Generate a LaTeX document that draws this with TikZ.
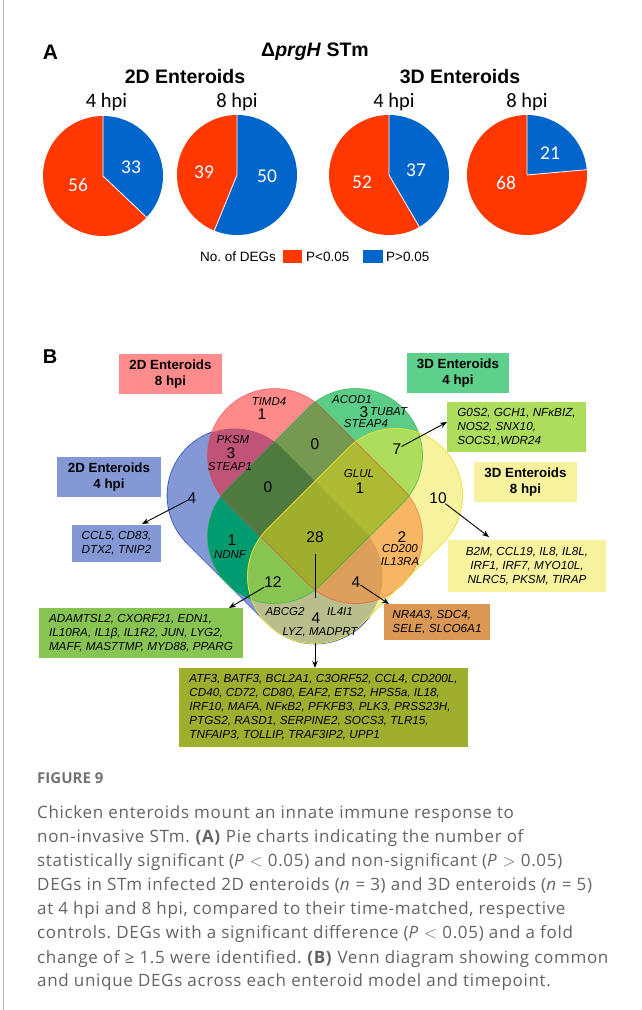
\documentclass[tikz,border=0pt]{standalone}
\usepackage{fontspec}
\setmainfont{Liberation Sans}
\newfontfamily\carl{Carlito}
\newfontfamily\capf{Open Sans}[LetterSpace=4]
\newfontfamily\capb{Open Sans}
\usetikzlibrary{arrows.meta}
\frenchspacing
% pie colours
\definecolor{pieR}{RGB}{255,55,0}
\definecolor{pieB}{RGB}{0,102,204}
% venn region colours
\definecolor{cBo}{RGB}{132,152,214}
\definecolor{cRo}{RGB}{255,138,138}
\definecolor{cGo}{RGB}{92,205,135}
\definecolor{cYo}{RGB}{246,242,158}
\definecolor{cBR}{RGB}{192,84,120}
\definecolor{cRG}{RGB}{118,152,80}
\definecolor{cBRG}{RGB}{78,122,64}
\definecolor{cGY}{RGB}{172,221,92}
\definecolor{cRGY}{RGB}{174,186,52}
\definecolor{cAll}{RGB}{160,174,46}
\definecolor{cBG}{RGB}{0,156,112}
\definecolor{cRY}{RGB}{246,182,100}
\definecolor{cBGY}{RGB}{136,196,82}
\definecolor{cBRY}{RGB}{220,160,92}
\definecolor{cBY}{RGB}{186,190,140}
\definecolor{oB}{RGB}{50,85,200}
\definecolor{oR}{RGB}{235,50,50}
\definecolor{oG}{RGB}{40,170,70}
\definecolor{oY}{RGB}{232,226,50}
% boxes
\definecolor{bxR}{RGB}{255,140,140}
\definecolor{bxB}{RGB}{132,152,214}
\definecolor{bxG}{RGB}{95,207,140}
\definecolor{bxY}{RGB}{246,242,158}
\definecolor{gGY}{RGB}{172,221,92}
\definecolor{gBGY}{RGB}{136,196,82}
\definecolor{gBRY}{RGB}{218,152,84}
\definecolor{gAll}{RGB}{160,174,46}
\definecolor{capgray}{RGB}{100,100,100}
\definecolor{figgray}{RGB}{115,115,115}
% venn shapes (image coordinates, y downwards)
\def\shpB{(275,536) ++(-40.5,-40.5) ++(-45:67) -- ++(81,81) arc[start angle=-45,end angle=135,radius=67] -- ++(-81,-81) arc[start angle=135,end angle=315,radius=67] -- cycle}
\def\shpR{(315,496) ++(-40.5,-40.5) ++(-45:67) -- ++(81,81) arc[start angle=-45,end angle=135,radius=67] -- ++(-81,-81) arc[start angle=135,end angle=315,radius=67] -- cycle}
\def\shpG{(315,496) ++(40.5,-40.5) ++(45:67) -- ++(-81,81) arc[start angle=45,end angle=225,radius=67] -- ++(81,-81) arc[start angle=225,end angle=405,radius=67] -- cycle}
\def\shpY{(355,536) ++(40.5,-40.5) ++(45:67) -- ++(-81,81) arc[start angle=45,end angle=225,radius=67] -- ++(81,-81) arc[start angle=225,end angle=405,radius=67] -- cycle}
\begin{document}
\begin{tikzpicture}[x=1pt,y=-1pt,
  every node/.style={inner sep=0pt},
  ttl/.style={font=\fontsize{19.5}{22}\selectfont\bfseries, anchor=base},
  hpi/.style={font=\carl\fontsize{20.5}{22}\selectfont, anchor=base},
  pnum/.style={font=\carl\fontsize{19.5}{20}\selectfont, text=white},
  legt/.style={font=\fontsize{13.5}{15}\selectfont, anchor=west},
  lbox/.style={font=\fontsize{13.3}{16}\selectfont\bfseries, align=center},
  vnum/.style={font=\fontsize{15.5}{16}\selectfont},
  vgen/.style={font=\fontsize{11.5}{12}\selectfont\itshape},
  gbox/.style={font=\fontsize{11.7}{14}\selectfont\itshape},
  arr/.style={-{Stealth[length=7pt,width=5.5pt]}, line width=0.9pt},
  vline/.style={line width=0.8pt},
  capl/.style={font=\capf\fontsize{17}{24}\selectfont, text=capgray, anchor=base west},
  slice/.style={white, line width=0.8pt}
]
\useasboundingbox (0,0) rectangle (641,1010);
\fill[white] (0,0) rectangle (641,1010);
\draw[black!28, line width=1pt] (3.5,0) -- (3.5,1010);

% ---------------- Panel A ----------------
\node[font=\fontsize{21}{22}\selectfont\bfseries] (labA) at (50.5,52.5) {A};
\node[ttl] (title) at (315,56) {Δ\textit{prgH} STm};
\node[ttl] (t2d) at (185,83) {2D Enteroids};
\node[ttl] (t3d) at (460,83) {3D Enteroids};
\node[hpi] (h1) at (106.5,107.5) {4 hpi};
\node[hpi] (h2) at (237,107.5) {8 hpi};
\node[hpi] (h3) at (394,107.5) {4 hpi};
\node[hpi] (h4) at (527,107.5) {8 hpi};

% pie 1 : 33 / 56
\fill[pieB] (103,176) -- ++(-90:60) arc[start angle=-90,end angle=43.5,radius=60] -- cycle;
\fill[pieR] (103,176) -- ++(43.5:60) arc[start angle=43.5,end angle=270,radius=60] -- cycle;
\draw[slice] (103,176) -- ++(-90:60) (103,176) -- ++(43.5:60);
% pie 2 : 50 / 39
\fill[pieB] (237,175) -- ++(-90:60) arc[start angle=-90,end angle=112.2,radius=60] -- cycle;
\fill[pieR] (237,175) -- ++(112.2:60) arc[start angle=112.2,end angle=270,radius=60] -- cycle;
\draw[slice] (237,175) -- ++(-90:60) (237,175) -- ++(112.2:60);
% pie 3 : 37 / 52
\fill[pieB] (389,175) -- ++(-90:60) arc[start angle=-90,end angle=59.7,radius=60] -- cycle;
\fill[pieR] (389,175) -- ++(59.7:60) arc[start angle=59.7,end angle=270,radius=60] -- cycle;
\draw[slice] (389,175) -- ++(-90:60) (389,175) -- ++(59.7:60);
% pie 4 : 21 / 68
\fill[pieB] (527,175) -- ++(-90:60) arc[start angle=-90,end angle=-5.1,radius=60] -- cycle;
\fill[pieR] (527,175) -- ++(-5.1:60) arc[start angle=-5.1,end angle=270,radius=60] -- cycle;
\draw[slice] (527,175) -- ++(-90:60) (527,175) -- ++(-5.1:60);

\node[pnum] (p1b) at (131,167) {33};
\node[pnum] (p1r) at (78,185) {56};
\node[pnum] (p2r) at (204,172) {39};
\node[pnum] (p2b) at (267,176) {50};
\node[pnum] (p3r) at (362,182) {52};
\node[pnum] (p3b) at (416,170) {37};
\node[pnum] (p4b) at (550,153) {21};
\node[pnum] (p4r) at (506,183) {68};

% legend
\node[legt] (legn) at (200,256.5) {No. of DEGs};
\node[fill=pieR, minimum width=19pt, minimum height=13pt] (legR) at (292.5,256.5) {};
\node[legt] (legRt) at (306,256.5) {P<0.05};
\node[fill=pieB, minimum width=20pt, minimum height=13pt] (legB) at (372.5,256.5) {};
\node[legt] (legBt) at (386,256.5) {P>0.05};

% ---------------- Panel B ----------------
\node[font=\fontsize{20}{22}\selectfont\bfseries] (labB) at (50,357) {B};

% blue outline first: only its outer half stays visible
\draw[oB, line width=1.6pt] \shpB;
% singles
\fill[cBo] \shpB; \fill[cRo] \shpR; \fill[cGo] \shpG; \fill[cYo] \shpY;
% pairs
\begin{scope}\clip \shpB; \fill[cBR] \shpR; \end{scope}
\begin{scope}\clip \shpB; \fill[cBG] \shpG; \end{scope}
\begin{scope}\clip \shpB; \fill[cBY] \shpY; \end{scope}
\begin{scope}\clip \shpR; \fill[cRG] \shpG; \end{scope}
\begin{scope}\clip \shpR; \fill[cRY] \shpY; \end{scope}
\begin{scope}\clip \shpG; \fill[cGY] \shpY; \end{scope}
% triples
\begin{scope}\clip \shpB; \clip \shpR; \fill[cBRG] \shpG; \end{scope}
\begin{scope}\clip \shpB; \clip \shpR; \fill[cBRY] \shpY; \end{scope}
\begin{scope}\clip \shpB; \clip \shpG; \fill[cBGY] \shpY; \end{scope}
\begin{scope}\clip \shpR; \clip \shpG; \fill[cRGY] \shpY; \end{scope}
% all four
\begin{scope}\clip \shpB; \clip \shpR; \clip \shpG; \fill[cAll] \shpY; \end{scope}
% outlines of the later sets
\draw[oR, vline, opacity=0.45] \shpR;
\draw[oG, vline, opacity=0.6] \shpG;
\draw[oY, vline, opacity=0.9] \shpY;

% set label boxes
\node[lbox, fill=bxR, minimum width=103pt, minimum height=40pt] (l2d8) at (170.5,374) {2D Enteroids\\8 hpi};
\node[lbox, fill=bxB, minimum width=104pt, minimum height=40pt] (l2d4) at (109,477) {2D Enteroids\\4 hpi};
\node[lbox, fill=bxG, minimum width=102pt, minimum height=40pt] (l3d4) at (458,373) {3D Enteroids\\4 hpi};
\node[lbox, fill=bxY, minimum width=103pt, minimum height=40pt] (l3d8) at (525.5,482) {3D Enteroids\\8 hpi};

% region texts
\node[vgen] (tTIMD) at (269,402) {TIMD4};
\node[vnum] (nR) at (262,414) {1};
\node[vgen] (tACOD) at (352,400) {ACOD1};
\node[vnum] (nG) at (364,412) {3};
\node[vgen, anchor=west] (tTUB) at (370,412) {TUBAT};
\node[vgen] (tST4) at (366,424) {STEAP4};
\node[vgen] (tPKSM) at (233,440) {PKSM};
\node[vnum] (nBR) at (231,453) {3};
\node[vgen] (tST1) at (230,467) {STEAP1};
\node[vnum] (nRG) at (315,444) {0};
\node[vnum] (n7) at (397,449) {7};
\node[vnum] (nBRG) at (268,487) {0};
\node[vgen] (tGLUL) at (359,474) {GLUL};
\node[vnum] (nRGY) at (360,488) {1};
\node[vnum] (n4b) at (192,498) {4};
\node[vnum] (n10) at (438,498) {10};
\node[vnum] (nBG) at (232,540) {1};
\node[vgen] (tNDNF) at (230,555) {NDNF};
\node[vnum] (n28) at (315,537) {28};
\node[vnum] (nRY) at (402,537) {2};
\node[vgen] (tCD200) at (400,549) {CD200};
\node[vgen] (tIL13) at (400,562) {IL13RA};
\node[vnum] (n12) at (273,582) {12};
\node[vnum] (n4o) at (356,582) {4};
\node[vgen] (tABCG) at (285,612) {ABCG2};
\node[vgen] (tIL4) at (340,612) {IL4I1};
\node[vnum] (n4y) at (316,618) {4};
\node[vgen] (tLYZ) at (320,632) {LYZ, MADPRT};

% gene boxes
\node[gbox, fill=bxB, minimum width=89pt, minimum height=37pt, align=center] (g1) at (116.5,543.5) {CCL5, CD83,\\DTX2, TNIP2};
\node[gbox, fill=gGY, minimum width=139pt, minimum height=50pt, align=left] (g2) at (516.5,427) {G0S2, GCH1, NFκBIZ,\\NOS2, SNX10,\\SOCS1,WDR24};
\node[gbox, fill=bxY, minimum width=158pt, minimum height=52pt, align=center] (g3) at (527,566) {B2M, CCL19, IL8, IL8L,\\IRF1, IRF7, MYO10L,\\NLRC5, PKSM, TIRAP};
\node[gbox, fill=gBGY, minimum width=204pt, minimum height=50pt, align=left] (g4) at (141,633) {ADAMTSL2, CXORF21, EDN1,\\IL10RA, IL1β, IL1R2, JUN, LYG2,\\MAFF, MAS7TMP, MYD88, PPARG};
\node[gbox, fill=gBRY, minimum width=106pt, minimum height=36pt, align=left] (g5) at (437,622) {NR4A3, SDC4,\\SELE, SLCO6A1};
\node[gbox, fill=gAll, minimum width=289pt, minimum height=79pt, align=left] (g6) at (323.5,707.5) {ATF3, BATF3, BCL2A1, C3ORF52, CCL4, CD200L,\\CD40, CD72, CD80, EAF2, ETS2, HPS5a, IL18,\\IRF10, MAFA, NFκB2, PFKFB3, PLK3, PRSS23H,\\PTGS2, RASD1, SERPINE2, SOCS3, TLR15,\\TNFAIP3, TOLLIP, TRAF3IP2, UPP1};

% arrows
\coordinate (t1) at (142,524);
\coordinate (t2) at (447,422);
\coordinate (t3) at (489,537);
\coordinate (t4) at (229,608);
\coordinate (t5) at (389,604);
\coordinate (t6a) at (315,598);
\coordinate (t6b) at (315,643);
\draw[arr] (n4b) -- (t1);
\draw[arr] (n7) -- (t2);
\draw[arr] (n10) -- (t3);
\draw[arr] (n12) -- (t4);
\draw[arr] (n4o) -- (t5);
\draw[line width=0.9pt, shorten <=11pt] (n28) -- (t6a);
\draw[arr] (t6b) -- (t6b |- g6.north);

% ---------------- Caption ----------------
\node[font=\capb\bfseries\fontsize{15}{16}\selectfont, text=figgray, anchor=base west] (fig) at (37,783) {FIGURE 9};
\node[capl] (c1) at (37,818) {Chicken enteroids mount an innate immune response to};
\node[capl] (c2) at (37,842) {non-invasive STm. \textbf{(A)} Pie charts indicating the number of};
\node[capl] (c3) at (37,866) {statistically significant (\textit{P} $<$ 0.05) and non-significant (\textit{P} $>$ 0.05)};
\node[capl] (c4) at (37,890) {DEGs in STm infected 2D enteroids (\textit{n} = 3) and 3D enteroids (\textit{n} = 5)};
\node[capl] (c5) at (37,914) {at 4 hpi and 8 hpi, compared to their time-matched, respective};
\node[capl] (c6) at (37,938) {controls. DEGs with a significant difference (\textit{P} $<$ 0.05) and a fold};
\node[capl] (c7) at (37,963) {change of ≥ 1.5 were identified. \textbf{(B)} Venn diagram showing common};
\node[capl] (c8) at (37,986) {and unique DEGs across each enteroid model and timepoint.};
\end{tikzpicture}
\end{document}
